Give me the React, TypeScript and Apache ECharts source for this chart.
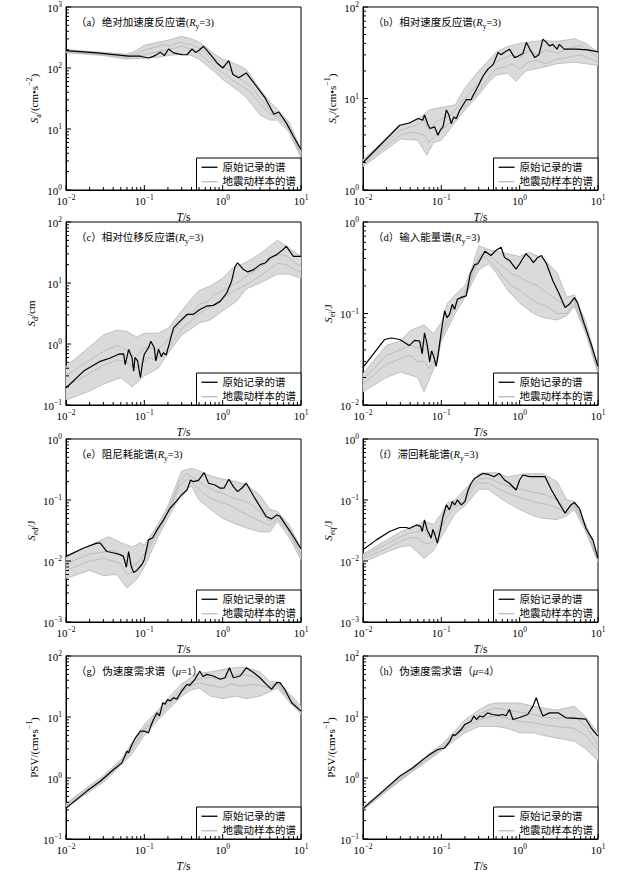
import React, { useEffect, useRef } from 'react';
import * as echarts from 'echarts';

const SERIF = "'Liberation Serif', 'Noto Sans CJK SC', serif";
const LEG_ORIG = '原始记录的谱';
const LEG_SAMP = '地震动样本的谱';

// ---------- data: [period T (s), value] ----------
const aOrig = [[0.01,193],[0.025,177],[0.063,156],[0.089,156],[0.113,146],[0.13,155],[0.145,166],[0.16,182],[0.18,160],[0.204,205],[0.236,177],[0.27,170],[0.3,166],[0.35,165],[0.407,205],[0.45,180],[0.5,195],[0.569,227],[0.7,166],[0.85,121],[1.0,100],[1.2,132],[1.35,78],[1.6,69],[2.0,83],[2.5,57],[3.5,32],[4.5,17.4],[5.2,19],[6.5,12.6],[8,7.6],[10,4.6]];
const aHi = [[0.01,200],[0.03,180],[0.06,168],[0.075,185],[0.1,235],[0.15,265],[0.2,285],[0.3,330],[0.4,300],[0.5,265],[0.6,225],[0.8,165],[1.0,140],[1.5,115],[2,95],[3,45],[4,28],[5,21],[7,13],[10,4.6]];
const aLo = [[0.01,178],[0.03,160],[0.06,140],[0.1,145],[0.15,150],[0.2,160],[0.3,170],[0.4,160],[0.5,140],[0.6,115],[0.8,85],[1.0,65],[1.5,45],[2,33],[3,17],[4,14],[5,14],[7,9],[10,3.4]];
const aMid1 = [[0.01,188],[0.03,170],[0.06,158],[0.08,170],[0.1,195],[0.13,215],[0.17,240],[0.22,230],[0.28,270],[0.33,250],[0.4,240],[0.5,210],[0.6,180],[0.75,130],[0.9,110],[1.1,100],[1.4,80],[1.8,62],[2.3,50],[3,32],[4,21],[5,18],[7,11],[10,4.0]];
const aMid2 = [[0.01,182],[0.03,165],[0.06,150],[0.09,160],[0.12,175],[0.16,190],[0.2,200],[0.25,215],[0.3,230],[0.36,210],[0.45,190],[0.55,160],[0.7,120],[0.85,95],[1,85],[1.3,65],[1.7,52],[2.2,42],[3,26],[4,18],[5,16],[7,10],[10,3.7]];

const bOrig = [[0.01,2.0],[0.0294,5.1],[0.039,5.4],[0.0503,6.05],[0.058,5.8],[0.061,6.6],[0.068,5.1],[0.072,4.7],[0.082,4.9],[0.0906,3.96],[0.097,4.5],[0.105,4.9],[0.116,7.5],[0.125,6.6],[0.134,5.3],[0.144,6.3],[0.155,6.0],[0.171,7.4],[0.208,9.7],[0.24,9.7],[0.25,10.5],[0.294,13.6],[0.34,17.5],[0.39,20.8],[0.46,23.6],[0.53,31.8],[0.58,30],[0.64,32],[0.74,34.6],[0.86,28],[0.95,29],[1.1,31],[1.22,41],[1.34,35],[1.56,28],[1.76,30],[1.98,44.6],[2.2,41],[2.4,37.6],[2.65,39],[3.0,34.6],[3.2,39],[3.7,34.6],[5.3,34.6],[7.4,34],[10,32.3]];
const bHi = [[0.01,2.15],[0.03,5.0],[0.05,5.9],[0.07,7.5],[0.1,8],[0.15,8.5],[0.2,13],[0.3,20],[0.4,26],[0.5,32],[0.7,37],[1,40],[1.5,42],[2,43],[3,42],[5,45],[7,40],[10,32]];
const bLo = [[0.01,1.8],[0.03,3.6],[0.05,3.5],[0.065,2.4],[0.08,3.3],[0.1,3.5],[0.15,5.5],[0.2,7.5],[0.3,11],[0.4,15],[0.5,18],[0.7,19],[0.9,15.4],[1.2,20],[2,22],[3,24],[5,25],[10,23]];
const bMid1 = [[0.01,2.0],[0.03,4.5],[0.05,5.2],[0.06,5.8],[0.07,4.5],[0.085,5.5],[0.1,6],[0.13,6.5],[0.17,8.5],[0.22,11],[0.3,15],[0.4,21],[0.5,25],[0.6,27],[0.8,30],[1,28],[1.3,33],[1.7,30],[2.2,34],[3,31],[4,35],[6,38],[8,32],[10,28]];
const bMid2 = [[0.01,1.9],[0.03,4.0],[0.045,4.3],[0.06,4.0],[0.07,3.3],[0.09,4.2],[0.11,4.8],[0.14,6],[0.18,7.5],[0.25,10],[0.32,13],[0.4,17],[0.5,21],[0.65,22],[0.8,24],[1,21],[1.3,25],[1.7,26],[2.2,24],[3,27],[4,28],[6,30],[8,27],[10,25]];

const cOrig = [[0.01,0.19],[0.0168,0.36],[0.0274,0.52],[0.0367,0.59],[0.047,0.68],[0.0544,0.69],[0.057,0.46],[0.063,0.81],[0.0695,0.6],[0.073,0.36],[0.076,0.6],[0.082,0.53],[0.089,0.28],[0.095,0.5],[0.1,0.68],[0.113,0.87],[0.121,1.11],[0.134,0.87],[0.14,0.53],[0.152,0.82],[0.165,0.62],[0.175,0.72],[0.19,0.66],[0.21,1.05],[0.236,1.84],[0.286,2.37],[0.35,3.05],[0.42,3.05],[0.51,3.67],[0.62,4.17],[0.76,4.3],[0.93,5.0],[1.13,6.9],[1.3,10.7],[1.44,18.8],[1.55,21.3],[1.85,16.6],[2.1,15.2],[2.5,16.6],[3.0,20],[3.5,21.3],[4.0,25.7],[4.9,29.2],[5.9,35.3],[6.5,40],[7.2,33],[8,27.4],[10,27.4]];
const cHi = [[0.01,0.43],[0.02,0.9],[0.03,1.4],[0.045,1.7],[0.06,1.6],[0.08,1.3],[0.1,1.5],[0.15,1.5],[0.2,1.8],[0.3,3.5],[0.4,5.5],[0.5,7.5],[0.7,9],[1,12],[1.3,17],[2,22],[3,30],[4,40],[5,50],[7,38],[10,27]];
const cLo = [[0.01,0.12],[0.02,0.17],[0.03,0.22],[0.05,0.28],[0.07,0.2],[0.1,0.3],[0.15,0.4],[0.2,0.7],[0.3,1.4],[0.4,1.8],[0.5,2.2],[0.7,2.5],[1,3.5],[1.5,5],[2,8],[3,10],[5,14],[7,14],[10,12]];
const cMid1 = [[0.01,0.3],[0.02,0.55],[0.03,0.75],[0.045,0.95],[0.06,0.8],[0.075,0.6],[0.09,0.75],[0.11,0.9],[0.14,0.8],[0.18,1.0],[0.22,1.4],[0.3,2.4],[0.4,3.2],[0.5,4.5],[0.65,5],[0.8,6.5],[1,7.5],[1.3,9],[1.7,11],[2.2,14],[3,18],[4,24],[5,30],[6.5,28],[8,22],[10,19]];
const cMid2 = [[0.01,0.2],[0.02,0.33],[0.03,0.45],[0.045,0.55],[0.06,0.5],[0.075,0.4],[0.09,0.45],[0.11,0.6],[0.14,0.55],[0.18,0.75],[0.22,1.0],[0.3,1.8],[0.4,2.4],[0.5,3.2],[0.65,3.8],[0.8,4.5],[1,5.5],[1.3,7],[1.7,8.5],[2.2,10],[3,13],[4,17],[5,21],[6.5,20],[8,17],[10,15]];

const dOrig = [[0.01,0.0258],[0.0189,0.052],[0.023,0.054],[0.0294,0.052],[0.039,0.0446],[0.0456,0.0508],[0.053,0.05],[0.057,0.0363],[0.061,0.0615],[0.066,0.0457],[0.071,0.0295],[0.075,0.039],[0.08,0.034],[0.086,0.0264],[0.091,0.0355],[0.1,0.064],[0.11,0.107],[0.118,0.09],[0.127,0.098],[0.138,0.126],[0.148,0.111],[0.16,0.143],[0.18,0.15],[0.208,0.156],[0.234,0.27],[0.266,0.342],[0.293,0.35],[0.324,0.41],[0.36,0.48],[0.43,0.43],[0.5,0.49],[0.58,0.53],[0.64,0.41],[0.74,0.38],[0.9,0.306],[1.0,0.35],[1.2,0.45],[1.34,0.41],[1.5,0.36],[1.7,0.41],[1.9,0.43],[2.2,0.35],[2.65,0.228],[3.2,0.163],[3.8,0.116],[4.3,0.126],[5.0,0.149],[5.5,0.13],[6.7,0.076],[8.2,0.0458],[10,0.0264]];
const dHi = [[0.01,0.022],[0.02,0.045],[0.03,0.05],[0.04,0.065],[0.06,0.075],[0.08,0.06],[0.1,0.08],[0.12,0.13],[0.15,0.16],[0.2,0.2],[0.25,0.33],[0.3,0.55],[0.4,0.5],[0.5,0.48],[0.7,0.45],[1,0.42],[1.3,0.47],[2,0.4],[3,0.28],[4,0.15],[5,0.16],[7,0.08],[10,0.026]];
const dLo = [[0.01,0.014],[0.02,0.02],[0.03,0.023],[0.05,0.02],[0.06,0.014],[0.08,0.025],[0.1,0.05],[0.15,0.1],[0.2,0.15],[0.3,0.3],[0.4,0.35],[0.5,0.28],[0.7,0.18],[1,0.13],[1.5,0.1],[2,0.09],[3,0.085],[4,0.095],[5,0.12],[7,0.06],[10,0.022]];
const dMid1 = [[0.01,0.019],[0.02,0.035],[0.03,0.04],[0.04,0.045],[0.05,0.042],[0.06,0.05],[0.07,0.035],[0.08,0.04],[0.09,0.035],[0.1,0.06],[0.12,0.09],[0.15,0.13],[0.2,0.17],[0.25,0.28],[0.3,0.42],[0.35,0.45],[0.45,0.4],[0.6,0.33],[0.8,0.27],[1,0.25],[1.3,0.22],[1.7,0.2],[2.2,0.17],[3,0.14],[4,0.12],[5,0.14],[7,0.07],[10,0.024]];
const dMid2 = [[0.01,0.017],[0.02,0.028],[0.03,0.032],[0.04,0.035],[0.05,0.03],[0.06,0.03],[0.07,0.025],[0.08,0.03],[0.09,0.03],[0.1,0.055],[0.12,0.08],[0.15,0.12],[0.2,0.16],[0.25,0.25],[0.3,0.38],[0.35,0.42],[0.45,0.35],[0.6,0.26],[0.8,0.2],[1,0.18],[1.3,0.15],[1.7,0.13],[2.2,0.12],[3,0.1],[4,0.1],[5,0.13],[7,0.065],[10,0.023]];

const eOrig = [[0.01,0.0119],[0.0168,0.0163],[0.0248,0.0196],[0.0274,0.0196],[0.0333,0.0143],[0.0425,0.0134],[0.049,0.0127],[0.054,0.012],[0.059,0.0079],[0.063,0.0143],[0.0681,0.0081],[0.073,0.0065],[0.08,0.007],[0.093,0.0087],[0.1,0.0105],[0.113,0.0222],[0.128,0.024],[0.145,0.0324],[0.176,0.0472],[0.213,0.0733],[0.254,0.094],[0.3,0.121],[0.35,0.146],[0.39,0.213],[0.42,0.2],[0.49,0.21],[0.58,0.281],[0.66,0.188],[0.8,0.176],[0.93,0.156],[1.04,0.156],[1.2,0.219],[1.37,0.166],[1.55,0.137],[1.75,0.156],[2.0,0.188],[2.5,0.114],[3.0,0.078],[3.6,0.0535],[4.2,0.049],[4.9,0.057],[5.4,0.054],[6.6,0.0367],[8,0.0252],[10,0.0158]];
const eHi = [[0.01,0.0115],[0.02,0.018],[0.035,0.025],[0.05,0.02],[0.07,0.017],[0.09,0.02],[0.1,0.018],[0.15,0.04],[0.2,0.08],[0.3,0.3],[0.4,0.33],[0.5,0.3],[0.7,0.25],[1,0.22],[1.5,0.2],[2,0.18],[3,0.12],[4,0.07],[5,0.065],[7,0.04],[10,0.016]];
const eLo = [[0.01,0.0052],[0.02,0.007],[0.03,0.0058],[0.045,0.006],[0.06,0.0036],[0.08,0.005],[0.1,0.008],[0.15,0.025],[0.2,0.05],[0.3,0.13],[0.4,0.17],[0.5,0.1],[0.7,0.07],[1,0.05],[1.5,0.04],[2,0.035],[3,0.03],[4,0.03],[5,0.045],[7,0.025],[10,0.0105]];
const eMid1 = [[0.01,0.009],[0.02,0.013],[0.03,0.014],[0.04,0.015],[0.05,0.012],[0.06,0.01],[0.07,0.008],[0.08,0.009],[0.1,0.013],[0.13,0.025],[0.17,0.045],[0.22,0.09],[0.28,0.2],[0.35,0.27],[0.45,0.22],[0.6,0.17],[0.8,0.14],[1,0.13],[1.3,0.11],[1.7,0.1],[2.2,0.09],[3,0.065],[4,0.045],[5,0.055],[7,0.033],[10,0.013]];
const eMid2 = [[0.01,0.007],[0.02,0.01],[0.03,0.011],[0.04,0.01],[0.05,0.009],[0.06,0.006],[0.07,0.0065],[0.08,0.007],[0.1,0.011],[0.13,0.022],[0.17,0.04],[0.22,0.08],[0.28,0.17],[0.35,0.22],[0.45,0.17],[0.6,0.12],[0.8,0.1],[1,0.09],[1.3,0.08],[1.7,0.065],[2.2,0.055],[3,0.045],[4,0.038],[5,0.05],[7,0.03],[10,0.012]];

const fOrig = [[0.01,0.0153],[0.0148,0.0222],[0.0219,0.0304],[0.0294,0.0354],[0.0357,0.0354],[0.039,0.034],[0.048,0.039],[0.0545,0.037],[0.057,0.0305],[0.061,0.0472],[0.066,0.032],[0.07,0.028],[0.074,0.0237],[0.078,0.033],[0.082,0.028],[0.089,0.0196],[0.098,0.034],[0.105,0.0535],[0.116,0.083],[0.127,0.069],[0.138,0.094],[0.148,0.083],[0.16,0.1],[0.18,0.083],[0.2,0.094],[0.22,0.146],[0.24,0.188],[0.266,0.227],[0.29,0.24],[0.34,0.274],[0.41,0.26],[0.47,0.24],[0.55,0.274],[0.64,0.213],[0.74,0.188],[0.9,0.146],[1.0,0.213],[1.1,0.257],[1.34,0.242],[1.8,0.242],[2.1,0.242],[2.55,0.146],[3.2,0.088],[3.8,0.061],[4.5,0.083],[5.0,0.091],[5.8,0.073],[7.0,0.0345],[8.6,0.0222],[10,0.0111]];
const fHi = [[0.01,0.013],[0.02,0.022],[0.03,0.03],[0.04,0.035],[0.05,0.038],[0.06,0.045],[0.08,0.04],[0.1,0.06],[0.12,0.09],[0.15,0.1],[0.2,0.15],[0.25,0.2],[0.3,0.27],[0.4,0.28],[0.5,0.28],[0.7,0.24],[1,0.26],[1.3,0.27],[2,0.27],[3,0.2],[4,0.1],[5,0.095],[7,0.04],[10,0.011]];
const fLo = [[0.01,0.0095],[0.02,0.014],[0.03,0.017],[0.04,0.018],[0.06,0.011],[0.08,0.015],[0.1,0.025],[0.15,0.06],[0.2,0.08],[0.3,0.15],[0.4,0.15],[0.5,0.12],[0.7,0.09],[1,0.07],[1.5,0.055],[2,0.05],[3,0.048],[4,0.055],[5,0.07],[7,0.03],[10,0.0095]];
const fMid1 = [[0.01,0.012],[0.02,0.019],[0.03,0.025],[0.04,0.029],[0.05,0.03],[0.06,0.033],[0.07,0.025],[0.08,0.028],[0.09,0.03],[0.1,0.045],[0.12,0.07],[0.15,0.085],[0.2,0.12],[0.25,0.17],[0.3,0.22],[0.4,0.23],[0.5,0.2],[0.7,0.17],[1,0.15],[1.3,0.14],[1.7,0.13],[2.2,0.12],[3,0.1],[4,0.07],[5,0.085],[7,0.037],[10,0.0105]];
const fMid2 = [[0.01,0.011],[0.02,0.016],[0.03,0.021],[0.04,0.024],[0.05,0.024],[0.06,0.02],[0.07,0.019],[0.08,0.022],[0.09,0.024],[0.1,0.035],[0.12,0.055],[0.15,0.075],[0.2,0.1],[0.25,0.15],[0.3,0.19],[0.4,0.19],[0.5,0.16],[0.7,0.13],[1,0.11],[1.3,0.1],[1.7,0.09],[2.2,0.085],[3,0.075],[4,0.06],[5,0.08],[7,0.035],[10,0.01]];

const gOrig = [[0.01,0.32],[0.0185,0.61],[0.0274,0.885],[0.0405,1.38],[0.0517,1.77],[0.06,2.75],[0.063,2.6],[0.0695,3.55],[0.077,4.56],[0.089,5.87],[0.1,5.87],[0.113,5.5],[0.121,7.1],[0.131,9.1],[0.145,11.7],[0.156,10.4],[0.172,17.2],[0.184,16.2],[0.198,19.4],[0.214,18.4],[0.236,20.7],[0.26,19.6],[0.3,26.6],[0.35,34.3],[0.38,33],[0.44,41],[0.51,56.8],[0.56,46],[0.63,50],[0.76,47],[0.93,41.5],[1.07,44],[1.22,64],[1.37,44],[1.67,47],[2.0,64],[2.5,53],[3.0,44],[3.6,34.3],[4.2,28.4],[4.9,36.5],[5.4,36.5],[6.2,28.4],[7.6,17.1],[10,12.5]];
const gHi = [[0.01,0.38],[0.02,0.75],[0.03,1.1],[0.05,2.0],[0.07,3.8],[0.1,7.5],[0.15,13],[0.2,20],[0.3,35],[0.4,45],[0.5,52],[0.7,55],[1,60],[1.5,65],[2,65],[3,55],[4,38],[5,38],[7,25],[10,15]];
const gLo = [[0.01,0.33],[0.02,0.6],[0.03,0.85],[0.05,1.6],[0.07,2.5],[0.1,5],[0.15,9],[0.2,13],[0.3,22],[0.4,28],[0.5,30],[0.7,22],[1,20],[1.5,22],[2,20],[3,22],[4,26],[5,30],[7,18],[10,11]];
const gMid1 = [[0.01,0.36],[0.02,0.7],[0.03,1.0],[0.05,1.85],[0.07,3.2],[0.1,6.5],[0.15,11],[0.2,17],[0.3,29],[0.4,38],[0.5,42],[0.7,45],[1,42],[1.3,48],[1.7,50],[2.2,48],[3,42],[4,32],[5,36],[7,22],[10,13]];
const gMid2 = [[0.01,0.35],[0.02,0.65],[0.03,0.92],[0.05,1.7],[0.07,2.9],[0.1,6],[0.15,10],[0.2,15],[0.3,26],[0.4,33],[0.5,36],[0.7,33],[1,30],[1.3,35],[1.7,32],[2.2,34],[3,33],[4,30],[5,34],[7,20],[10,12]];

const hOrig = [[0.01,0.315],[0.018,0.61],[0.0294,1.07],[0.0434,1.47],[0.058,2.0],[0.071,2.43],[0.09,2.93],[0.11,3.1],[0.128,4.0],[0.141,5.17],[0.15,5.0],[0.16,5.4],[0.18,6.25],[0.2,7.55],[0.22,8],[0.24,8.5],[0.26,10.4],[0.28,9.1],[0.31,10.4],[0.34,10.0],[0.39,11.7],[0.45,11],[0.53,10.6],[0.61,11],[0.67,10.5],[0.74,13.3],[0.82,9.1],[1.0,9.8],[1.27,11],[1.48,15.1],[1.63,20.7],[1.8,14],[1.98,10.4],[2.4,11.7],[3.1,11.7],[3.9,9.7],[5.3,9.5],[7.0,9.2],[8.2,6.6],[10,4.85]];
const hHi = [[0.01,0.33],[0.02,0.7],[0.04,1.4],[0.07,2.5],[0.1,3.5],[0.15,6],[0.2,9],[0.3,13],[0.4,16],[0.5,17],[0.7,17],[1,17],[1.5,15],[2,14],[3,13],[5,15],[7,10],[10,5.5]];
const hLo = [[0.01,0.3],[0.02,0.6],[0.04,1.2],[0.07,2.0],[0.1,2.8],[0.15,4.2],[0.2,5.5],[0.3,7],[0.4,7],[0.5,7],[0.7,6.5],[1,5.5],[1.5,5.5],[2,5],[3,4.5],[5,4],[7,3],[10,1.9]];
const hMid1 = [[0.01,0.32],[0.02,0.66],[0.04,1.32],[0.07,2.3],[0.1,3.2],[0.15,5.3],[0.2,7.5],[0.3,11],[0.4,13],[0.5,14],[0.7,13],[1,12],[1.5,11],[2,10],[3,9.5],[5,10],[7,7],[10,3.5]];
const hMid2 = [[0.01,0.31],[0.02,0.63],[0.04,1.25],[0.07,2.15],[0.1,3.0],[0.15,4.8],[0.2,6.5],[0.3,9],[0.4,10],[0.5,10.5],[0.7,9.5],[1,8.5],[1.5,8],[2,7.5],[3,7],[5,6.5],[7,5],[10,2.8]];

// ---------- panel texts ----------
const titles = [
  '{n|（a）绝对加速度反应谱(}{i|R}{sub|y}{n|=3)}',
  '{n|（b）相对速度反应谱(}{i|R}{sub|y}{n|=3)}',
  '{n|（c）相对位移反应谱(}{i|R}{sub|y}{n|=3)}',
  '{n|（d）输入能量谱(}{i|R}{sub|y}{n|=3)}',
  '{n|（e）阻尼耗能谱(}{i|R}{sub|y}{n|=3)}',
  '{n|（f）滞回耗能谱(}{i|R}{sub|y}{n|=3)}',
  '{n|（g）伪速度需求谱（}{i|μ}{n|=1）}',
  '{n|（h）伪速度需求谱（}{i|μ}{n|=4）}',
];
const yNames = [
  '{i|S}{sub|a}{n|/(cm•s}{sup|−2}{n|)}',
  '{i|S}{sub|v}{n|/(cm•s}{sup|−1}{n|)}',
  '{i|S}{sub|d}{n|/cm}',
  '{i|S}{sub|ei}{n|/J}',
  '{i|S}{sub|ed}{n|/J}',
  '{i|S}{sub|eq}{n|/J}',
  '{n|PSV/(cm•s}{sup|−1}{n|)}',
  '{n|PSV/(cm•s}{sup|−1}{n|)}',
];
const yMin = [1, 1, 0.1, 0.01, 0.001, 0.001, 0.1, 0.1];
const yMax = [1000, 100, 100, 1, 1, 1, 100, 100];
const origs = [aOrig, bOrig, cOrig, dOrig, eOrig, fOrig, gOrig, hOrig];
const his = [aHi, bHi, cHi, dHi, eHi, fHi, gHi, hHi];
const los = [aLo, bLo, cLo, dLo, eLo, fLo, gLo, hLo];
const mids = [[aMid1, aMid2], [bMid1, bMid2], [cMid1, cMid2], [dMid1, dMid2], [eMid1, eMid2], [fMid1, fMid2], [gMid1, gMid2], [hMid1, hMid2]];

const xMin = 0.01;
const xMax = 10;

// ---------- layout ----------
const colLeft = [66, 363];
const rowTop = [7, 222, 439, 656];
const gridW = 235;
const gridH = 183;
const W = 625;
const H = 877;
const GRAY = '#bababa';

const richBase = (size: number) => ({
  n: { fontSize: size, fontFamily: SERIF, color: '#000', verticalAlign: 'bottom' },
  i: { fontSize: size, fontFamily: SERIF, fontStyle: 'italic', color: '#000', verticalAlign: 'bottom' },
  sub: { fontSize: size * 0.72, fontFamily: SERIF, color: '#000', verticalAlign: 'bottom', padding: [0, 0, -3, 0] },
  sup: { fontSize: size * 0.72, fontFamily: SERIF, color: '#000', verticalAlign: 'bottom', padding: [0, 0, 6, 0] },
});

const tickRich = {
  b: { fontSize: 11, fontFamily: SERIF, color: '#000', verticalAlign: 'bottom' },
  s: { fontSize: 7.5, fontFamily: SERIF, color: '#000', verticalAlign: 'bottom', padding: [0, 0, 5, 0] },
};
const powLabel = (v: number) => {
  const e = Math.round(Math.log10(v));
  return '{b|10}{s|' + (e < 0 ? '−' + -e : String(e)) + '}';
};

function buildOption() {
  const option: any = {
    animation: false,
    backgroundColor: '#fff',
    grid: [], xAxis: [], yAxis: [], series: [], title: [], legend: [],
  };
  origs.forEach((orig, i) => {
    const col = i % 2;
    const row = Math.floor(i / 2);
    const left = colLeft[col];
    const top = rowTop[row];
    const ymin = yMin[i];
    const ymax = yMax[i];
    option.grid.push({ left, top, width: gridW, height: gridH, show: true, borderColor: '#000', borderWidth: 1, backgroundColor: 'transparent' });
    option.xAxis.push({
      type: 'log', logBase: 10, gridIndex: i, min: xMin, max: xMax,
      axisLine: { lineStyle: { color: '#000', width: 1 } },
      axisTick: { show: false }, splitLine: { show: false },
      axisLabel: { formatter: powLabel, rich: tickRich, margin: 4, showMinLabel: true, showMaxLabel: true },
      name: '{i|T}{n|/s}', nameLocation: 'middle', nameGap: 21,
      nameTextStyle: { rich: richBase(11.5) },
    });
    option.yAxis.push({
      type: 'log', logBase: 10, gridIndex: i, min: ymin, max: ymax,
      axisLine: { lineStyle: { color: '#000', width: 1 } },
      axisTick: { show: false }, splitLine: { show: false },
      axisLabel: { formatter: powLabel, rich: tickRich, margin: 4, showMinLabel: true, showMaxLabel: true },
      name: yNames[i], nameLocation: 'middle', nameRotate: 90, nameGap: col === 0 ? 27 : 24,
      nameTextStyle: { rich: richBase(11) },
    });
    option.title.push({
      text: titles[i], left: left + 5, top: top + 5,
      textStyle: { rich: richBase(10.5), fontWeight: 'normal' },
    });
    option.legend.push({
      data: [{ name: LEG_ORIG, icon: 'rect' }, { name: LEG_SAMP, icon: 'rect' }],
      orient: 'vertical', selectedMode: false,
      right: W - (left + gridW), bottom: H - (top + gridH),
      itemWidth: 16, itemHeight: 1.3, itemGap: 4,
      padding: [4, 5, 3, 5],
      backgroundColor: '#fff', borderColor: '#000', borderWidth: 1,
      textStyle: { fontSize: 10.5, fontFamily: SERIF, color: '#000' },
    });
    const hi = his[i];
    const lo = los[i];
    // sample band (envelope of the sample spectra)
    option.series.push({
      type: 'custom', name: 'band' + i, xAxisIndex: i, yAxisIndex: i, silent: true, z: 1, clip: true,
      data: [[xMin, ymin]],
      renderItem: (_p: any, api: any) => {
        const pts = hi.map((d) => api.coord(d)).concat(lo.slice().reverse().map((d) => api.coord(d)));
        return { type: 'polygon', shape: { points: pts }, style: { fill: '#dadada', stroke: 'none' } };
      },
    });
    [hi, lo, mids[i][0], mids[i][1]].forEach((arr) => {
      option.series.push({
        type: 'line', name: LEG_SAMP, xAxisIndex: i, yAxisIndex: i, data: arr, showSymbol: false, z: 2,
        color: GRAY, lineStyle: { color: GRAY, width: 0.9 },
      });
    });
    option.series.push({
      type: 'line', name: LEG_ORIG, xAxisIndex: i, yAxisIndex: i, data: orig, showSymbol: false, z: 3,
      color: '#000', lineStyle: { color: '#000', width: 1.2 },
    });
    // inside ticks (major decades + minor 2..9)
    option.series.push({
      type: 'custom', name: 'ticks' + i, xAxisIndex: i, yAxisIndex: i, silent: true, z: 4, clip: false,
      data: [[xMin, ymin]],
      renderItem: (_p: any, api: any) => {
        const children: any[] = [];
        const yb = api.coord([xMin, ymin])[1];
        const xl = api.coord([xMin, ymin])[0];
        const xs: number[][] = [];
        for (let e = -2; e < 1; e++) for (let m = 1; m < 10; m++) xs.push([m * Math.pow(10, e), m]);
        xs.push([10, 1]);
        xs.forEach(([v, m]) => {
          const x = api.coord([v, ymin])[0];
          const len = m === 1 ? 5 : 3;
          children.push({ type: 'line', shape: { x1: x, y1: yb, x2: x, y2: yb - len }, style: { stroke: '#000', lineWidth: 1 } });
        });
        const e0 = Math.round(Math.log10(ymin));
        const e1 = Math.round(Math.log10(ymax));
        for (let e = e0; e <= e1; e++) {
          for (let m = 1; m < 10; m++) {
            if (e === e1 && m > 1) break;
            const v = m * Math.pow(10, e);
            const y = api.coord([xMin, v])[1];
            const len = m === 1 ? 5 : 3;
            children.push({ type: 'line', shape: { x1: xl, y1: y, x2: xl + len, y2: y }, style: { stroke: '#000', lineWidth: 1 } });
          }
        }
        return { type: 'group', children };
      },
    });
  });
  return option;
}

export default function App() {
  const ref = useRef<HTMLDivElement>(null);
  useEffect(() => {
    if (!ref.current) return;
    const chart = echarts.init(ref.current, undefined, { renderer: 'svg' });
    chart.setOption(buildOption());
    return () => chart.dispose();
  }, []);
  return <div ref={ref} style={{ position: 'absolute', left: 0, top: 0, width: W, height: H, background: '#fff' }} />;
}
